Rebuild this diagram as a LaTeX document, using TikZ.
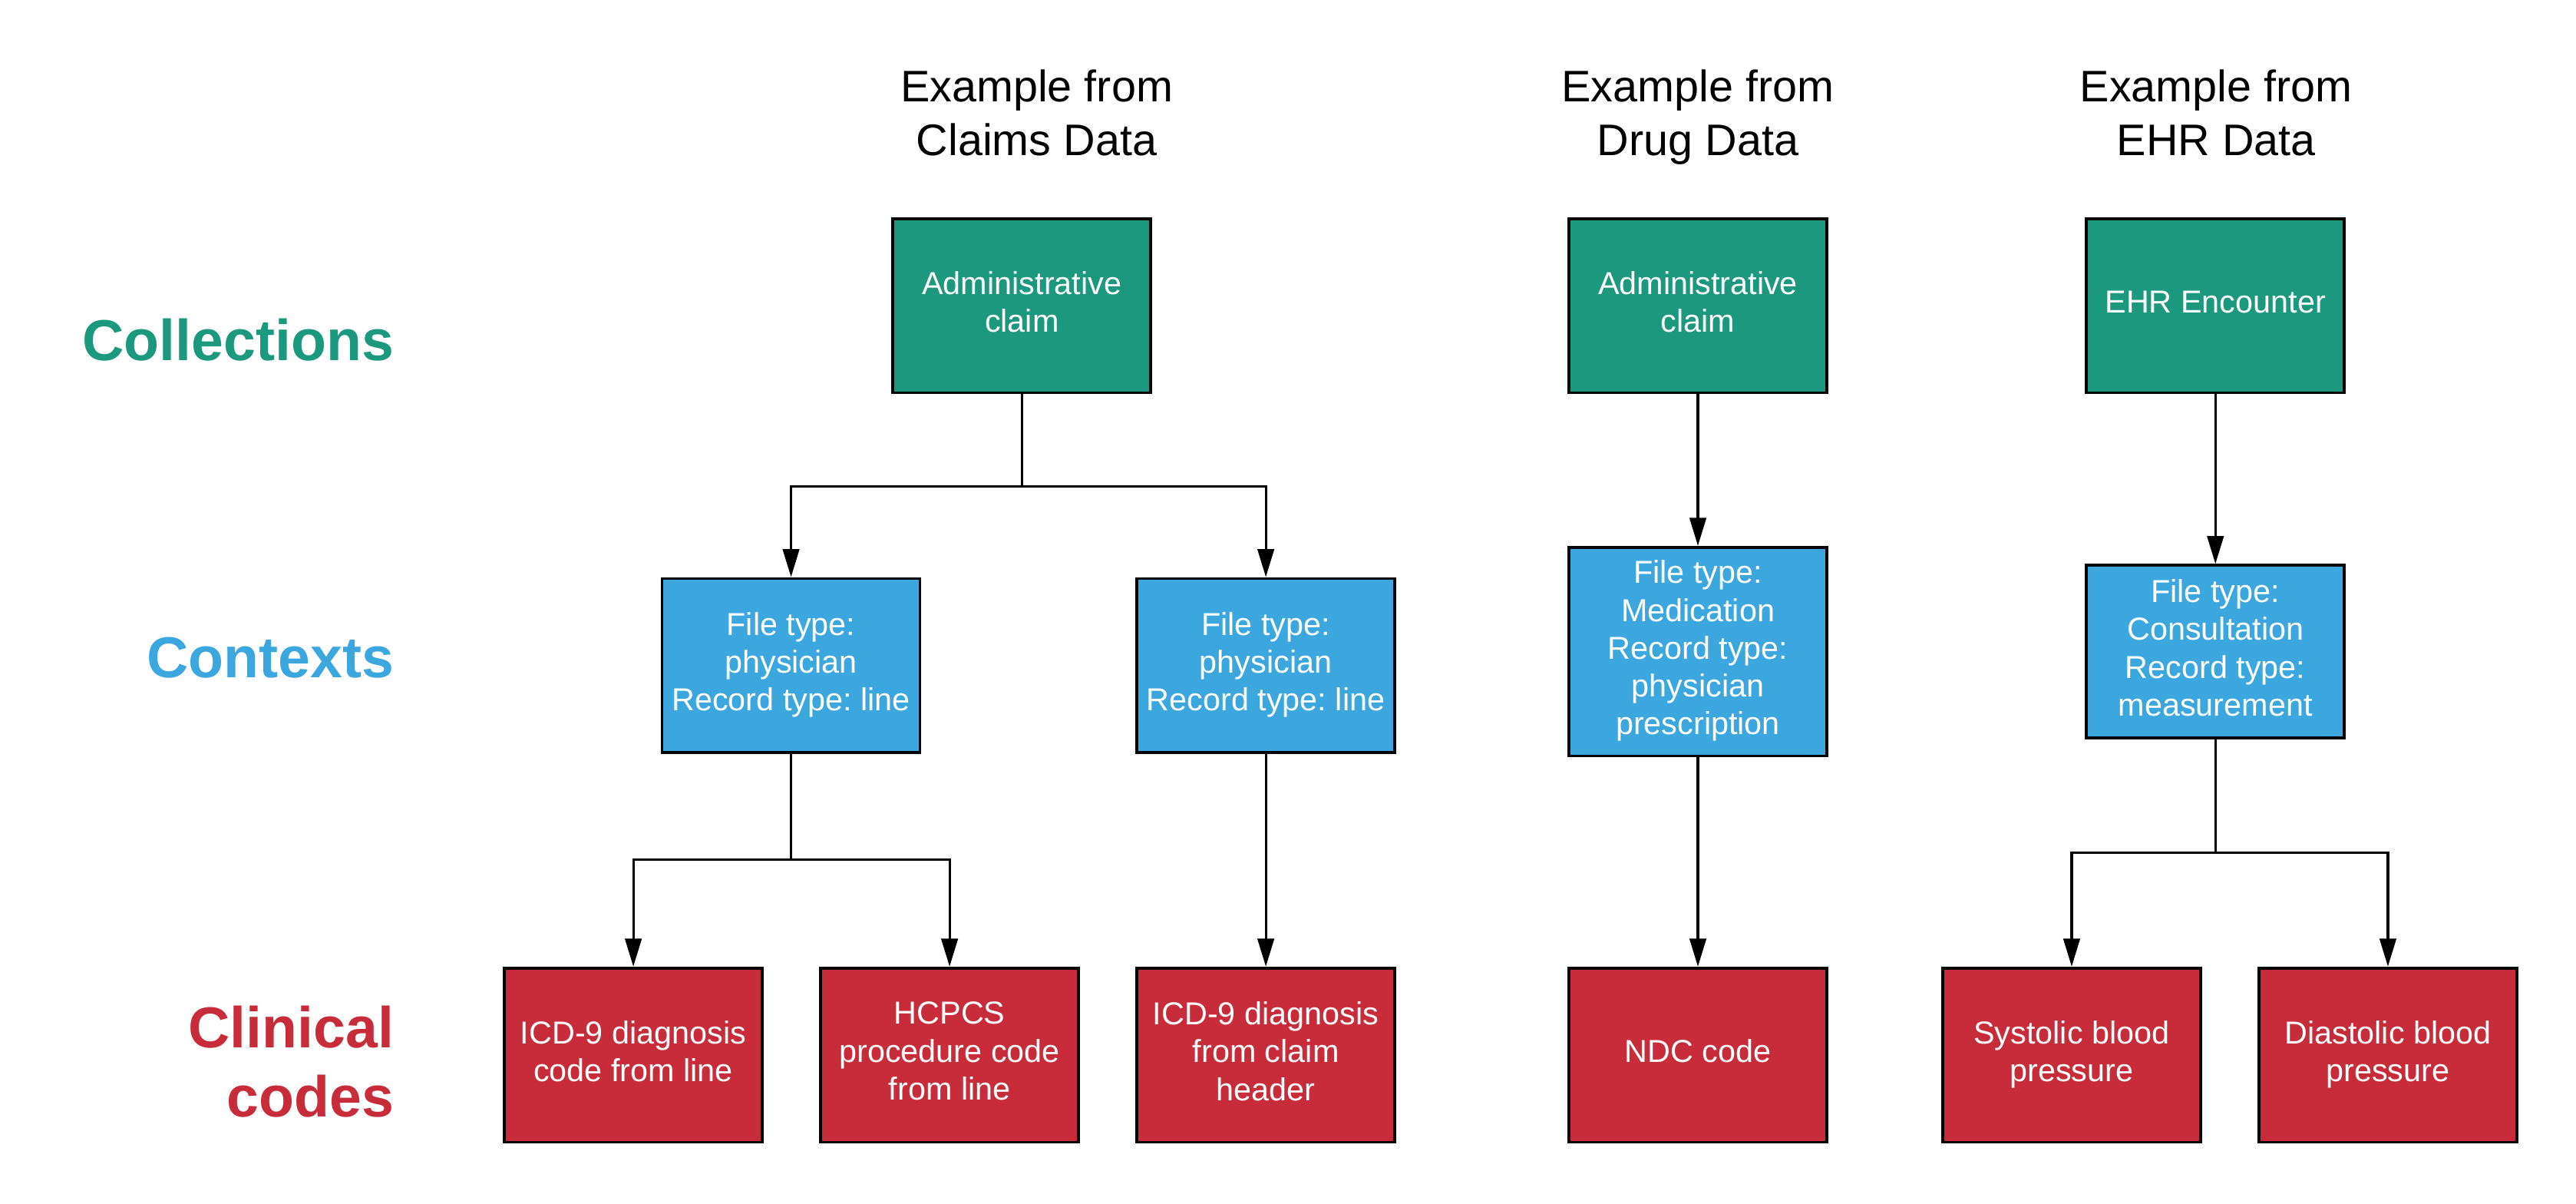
\documentclass[tikz,border=0pt]{standalone}
\usepackage{fontspec}
\setmainfont{Liberation Sans}
\usetikzlibrary{arrows.meta}
\frenchspacing

\definecolor{collgreen}{RGB}{27,152,126}
\definecolor{ctxblue}{RGB}{60,167,222}
\definecolor{codered}{RGB}{200,44,58}

\tikzset{
  box/.style={draw=black, line width=1pt, rectangle, minimum width=3.14cm,
    minimum height=2.12cm, align=center, text=white, inner sep=2pt,
    text depth=2.8pt, font=\fontsize{11}{13.1}\selectfont},
  collbox/.style={box, fill=collgreen},
  ctxbox/.style={box, fill=ctxblue},
  codebox/.style={box, fill=codered},
  rowlabel/.style={anchor=east, align=right, inner sep=0pt,
    font=\fontsize{20}{24}\selectfont\bfseries},
  colhead/.style={align=center, text depth=0pt, font=\fontsize{15.3}{18.8}\selectfont},
  arr/.style={line width=0.85pt, -{Triangle[length=3.4mm,width=2mm]}},
  link/.style={line width=0.85pt}
}

\begin{document}
\begin{tikzpicture}
\useasboundingbox (0,0) rectangle (31.36,-14.652);

% row labels
\node[rowlabel, text=collgreen] (LColl) at (4.8,-4.14) {Collections};
\node[rowlabel, text=ctxblue] (LCtx) at (4.8,-8.0) {Contexts};
\node[rowlabel, text=codered] (LCode) at (4.8,-12.92) {Clinical\\codes};

% column heads
\node[colhead] (HClaims) at (12.62,-1.37) {Example from\\Claims Data};
\node[colhead] (HDrug) at (20.67,-1.37) {Example from\\Drug Data};
\node[colhead] (HEHR) at (26.98,-1.37) {Example from\\EHR Data};

% collections
\node[collbox] (Claim) at (12.44,-3.72) {Administrative\\claim};
\node[collbox] (DrugClaim) at (20.67,-3.72) {Administrative\\claim};
\node[collbox] (Encounter) at (26.97,-3.72) {EHR Encounter};

% contexts
\node[ctxbox] (PhysA) at (9.63,-8.10) {File type:\\physician\\Record type: line};
\node[ctxbox] (PhysB) at (15.41,-8.10) {File type:\\physician\\Record type: line};
\node[ctxbox, minimum height=2.54cm] (Medication) at (20.67,-7.93)
  {File type:\\Medication\\Record type:\\physician\\prescription};
\node[ctxbox, minimum height=2.1cm] (Consult) at (26.97,-7.93)
  {File type:\\Consultation\\Record type:\\measurement};

% clinical codes
\node[codebox] (ICDLine) at (7.71,-12.84) {ICD-9 diagnosis\\code from line};
\node[codebox] (HCPCS) at (11.56,-12.84) {HCPCS\\procedure code\\from line};
\node[codebox] (ICDHead) at (15.41,-12.84) {ICD-9 diagnosis\\from claim\\header};
\node[codebox] (NDC) at (20.67,-12.84) {NDC code};
\node[codebox] (Systolic) at (25.22,-12.84) {Systolic blood\\pressure};
\node[codebox] (Diastolic) at (29.07,-12.84) {Diastolic blood\\pressure};

% split points
\coordinate (ClaimSplit) at (12.44,-5.92);
\coordinate (PhysSplit) at (9.63,-10.46);
\coordinate (ConsultSplit) at (26.97,-10.38);

\draw[link] (Claim.south) -- (ClaimSplit);
\draw[arr] (ClaimSplit) -| (PhysA.north);
\draw[arr] (ClaimSplit) -| (PhysB.north);
\draw[arr] (DrugClaim.south) -- (Medication.north);
\draw[arr] (Encounter.south) -- (Consult.north);

\draw[link] (PhysA.south) -- (PhysSplit);
\draw[arr] (PhysSplit) -| (ICDLine.north);
\draw[arr] (PhysSplit) -| (HCPCS.north);
\draw[arr] (PhysB.south) -- (ICDHead.north);
\draw[arr] (Medication.south) -- (NDC.north);
\draw[link] (Consult.south) -- (ConsultSplit);
\draw[arr] (ConsultSplit) -| (Systolic.north);
\draw[arr] (ConsultSplit) -| (Diastolic.north);
\end{tikzpicture}
\end{document}
